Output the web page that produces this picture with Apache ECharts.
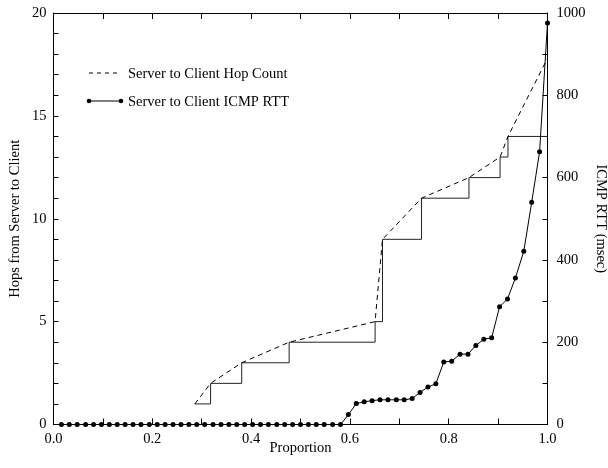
<!DOCTYPE html>
<html>
<head>
<meta charset="utf-8">
<script src="https://cdn.jsdelivr.net/npm/echarts@6/dist/echarts.min.js"></script>
<style>html,body{margin:0;padding:0;background:#fff;}#c{width:608px;height:468px;}</style>
</head>
<body>
<div id="c"></div>
<script>
// Step (hops) line: x position of each step and its level
var stepX = [0.286, 0.318, 0.381, 0.477, 0.651, 0.666, 0.745, 0.841, 0.904, 0.920, 1.000];
var stepY = [1, 2, 3, 4, 5, 9, 11, 12, 13, 14, 14];
// Dashed hop count curve
var hopX = [0.286, 0.318, 0.381, 0.477, 0.651, 0.666, 0.745, 0.841, 0.904, 0.920, 1.000];
var hopY = [1, 2, 3, 4, 5, 9, 11, 12, 13, 14, 17.8];
// ICMP RTT points (msec)
var rttX = [0.016, 0.032, 0.048, 0.065, 0.081, 0.097, 0.113, 0.129, 0.145, 0.161,
            0.177, 0.194, 0.210, 0.226, 0.242, 0.258, 0.274, 0.290, 0.306, 0.323,
            0.339, 0.355, 0.371, 0.387, 0.403, 0.419, 0.435, 0.452, 0.468, 0.484,
            0.500, 0.516, 0.532, 0.548, 0.565, 0.581, 0.597, 0.613, 0.629, 0.645,
            0.661, 0.677, 0.694, 0.710, 0.726, 0.742, 0.758, 0.774, 0.790, 0.806,
            0.823, 0.839, 0.855, 0.871, 0.887, 0.903, 0.919, 0.935, 0.952, 0.968,
            0.984, 1.000];
var rttY = [0, 0, 0, 0, 0, 0, 0, 0, 0, 0,
            0, 0, 0, 0, 0, 0, 0, 0, 0, 0,
            0, 0, 0, 0, 0, 0, 0, 0, 0, 0,
            0, 0, 0, 0, 0, 0, 24, 51, 55, 58,
            60, 60, 60, 60, 63, 78, 91, 99, 152, 154,
            171, 171, 192, 207, 211, 286, 305, 356, 421, 540,
            663, 976];
var seriesNames = ['Server to Client Hop Count', 'Server to Client ICMP RTT'];
var axisNames = ['Proportion', 'Hops from Server to Client', 'ICMP RTT (msec)'];

function zip(xs, ys) { return xs.map(function (x, i) { return [x, ys[i]]; }); }

var FONT = 'Liberation Serif';
var FS = 14.5;
var txt = { fontFamily: FONT, fontSize: FS, color: '#000' };

// hand-drawn legend (keys drawn like the original: dashed line / line with end dots)
var legendGraphic = [
  { type: 'line', shape: { x1: 89, y1: 73, x2: 121, y2: 73 },
    style: { stroke: '#000', lineWidth: 1, lineDash: [4, 4] } },
  { type: 'text', left: 128, top: 73 - FS / 2 + 1,
    style: { text: seriesNames[0], font: FS + 'px "' + FONT + '"', fill: '#000' } },
  { type: 'line', shape: { x1: 89, y1: 101, x2: 121, y2: 101 },
    style: { stroke: '#000', lineWidth: 1 } },
  { type: 'circle', shape: { cx: 89, cy: 101, r: 2.3 }, style: { fill: '#000' } },
  { type: 'circle', shape: { cx: 121, cy: 101, r: 2.3 }, style: { fill: '#000' } },
  { type: 'text', left: 128, top: 101 - FS / 2 + 1,
    style: { text: seriesNames[1], font: FS + 'px "' + FONT + '"', fill: '#000' } }
];

var chart = echarts.init(document.getElementById('c'), null, { renderer: 'canvas' });
chart.setOption({
  animation: false,
  backgroundColor: '#fff',
  textStyle: { fontFamily: FONT },
  grid: { left: 53.5, right: 60.5, top: 13, bottom: 43.5, containLabel: false, outerBoundsMode: 'none' },
  graphic: legendGraphic,
  xAxis: [{
    type: 'value', min: 0, max: 1, interval: 0.1, position: 'bottom',
    name: axisNames[0], nameLocation: 'middle', nameGap: 16, nameMoveOverlap: false, nameTextStyle: txt,
    axisLine: { show: true, onZero: false, lineStyle: { color: '#000', width: 1 } },
    axisTick: { show: true, inside: true, length: 6, lineStyle: { color: '#000' } },
    axisLabel: { margin: 7, fontFamily: FONT, fontSize: FS, color: '#000',
      formatter: function (v) { return Math.round(v * 10) % 2 === 0 ? v.toFixed(1) : ''; } },
    splitLine: { show: false }
  }, {
    type: 'value', min: 0, max: 1, interval: 0.1, position: 'top',
    axisLine: { show: true, onZero: false, lineStyle: { color: '#000', width: 1 } },
    axisTick: { show: true, inside: true, length: 6, lineStyle: { color: '#000' } },
    axisLabel: { show: false }, splitLine: { show: false }
  }],
  yAxis: [{
    type: 'value', min: 0, max: 20, interval: 1, position: 'left',
    name: axisNames[1], nameLocation: 'middle', nameGap: 31, nameMoveOverlap: false, nameTextStyle: txt,
    axisLine: { show: true, onZero: false, lineStyle: { color: '#000', width: 1 } },
    axisTick: { show: true, inside: true, length: 5, lineStyle: { color: '#000' } },
    axisLabel: { margin: 7, fontFamily: FONT, fontSize: FS, color: '#000',
      formatter: function (v) { return v % 5 === 0 ? String(v) : ''; } },
    splitLine: { show: false }
  }, {
    type: 'value', min: 0, max: 1000, interval: 100, position: 'right',
    name: axisNames[2], nameLocation: 'middle', nameGap: 46, nameRotate: -90, nameMoveOverlap: false, nameTextStyle: txt,
    axisLine: { show: true, onZero: false, lineStyle: { color: '#000', width: 1 } },
    axisTick: { show: true, inside: true, length: 5, lineStyle: { color: '#000' } },
    axisLabel: { margin: 9, fontFamily: FONT, fontSize: FS, color: '#000',
      formatter: function (v) { return v % 200 === 0 ? String(v) : ''; } },
    splitLine: { show: false }
  }],
  series: [{
    name: seriesNames[0], type: 'line', xAxisIndex: 0, yAxisIndex: 0,
    data: zip(hopX, hopY), symbol: 'none',
    lineStyle: { color: '#000', width: 1, type: [5, 4] },
    itemStyle: { color: '#000' }, z: 3
  }, {
    name: 'steps', type: 'line', xAxisIndex: 0, yAxisIndex: 0,
    data: zip(stepX, stepY), step: 'end', symbol: 'none',
    lineStyle: { color: '#222', width: 1 }, z: 2
  }, {
    name: seriesNames[1], type: 'line', xAxisIndex: 0, yAxisIndex: 1,
    data: zip(rttX, rttY), symbol: 'circle', symbolSize: 5, showSymbol: true,
    lineStyle: { color: '#000', width: 1 }, itemStyle: { color: '#000' }, z: 4
  }]
});
</script>
</body>
</html>
